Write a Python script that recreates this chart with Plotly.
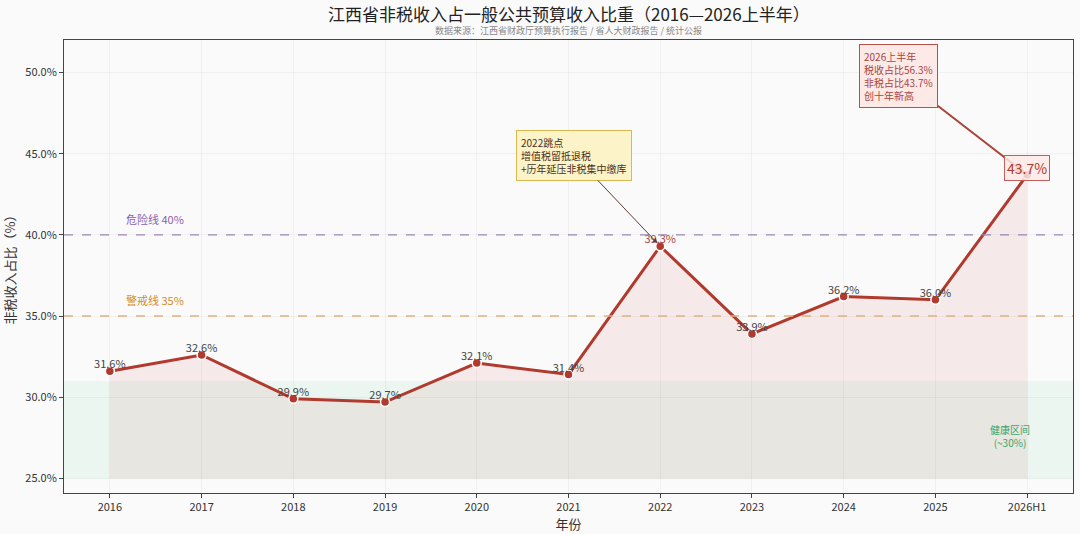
import plotly.graph_objects as go

# data
years = ["2016", "2017", "2018", "2019", "2020", "2021", "2022", "2023", "2024", "2025", "2026H1"]
nontax_share = [31.6, 32.6, 29.9, 29.7, 32.1, 31.4, 39.3, 33.9, 36.2, 36.0, 43.7]
warn_line = 35
danger_line = 40
healthy_band = [25, 31]
y_ticks = [25, 30, 35, 40, 45, 50]

line_red = "#b03a2e"
font_cn = "Noto Sans CJK SC"

fig = go.Figure()

# healthy zone band
fig.add_shape(type="rect", xref="paper", yref="y", x0=0, x1=1,
              y0=healthy_band[0], y1=healthy_band[1],
              fillcolor="rgba(46,204,113,0.07)", line_width=0, layer="below")

# baseline for the area fill
fig.add_trace(go.Scatter(
    x=years, y=[healthy_band[0]] * len(years),
    mode="lines", line=dict(width=0, color="rgba(0,0,0,0)"),
    showlegend=False, hoverinfo="skip"
))

fig.add_trace(go.Scatter(
    x=years, y=nontax_share,
    mode="lines+markers",
    line=dict(color=line_red, width=3),
    marker=dict(size=9, color=line_red, line=dict(color="white", width=1.5)),
    fill="tonexty", fillcolor="rgba(192,57,43,0.08)",
    showlegend=False
))

# value labels
point_text = [f"{v:.1f}%" for v in nontax_share]
point_text[-1] = ""
text_colors = ["#444444"] * len(years)
text_colors[6] = "#a94442"
fig.add_trace(go.Scatter(
    x=years, y=nontax_share, mode="text",
    text=point_text, textposition="top center",
    textfont=dict(size=11, color=text_colors, family=font_cn),
    showlegend=False, hoverinfo="skip"
))

# reference lines
fig.add_hline(y=danger_line, line=dict(color="#9b86b5", width=1.3, dash="dash"))
fig.add_hline(y=warn_line, line=dict(color="#e0b080", width=1.3, dash="dash"))

fig.add_annotation(x=0.15, y=danger_line + 0.35, xref="x", yref="y",
                   text=f"危险线 {danger_line}%", showarrow=False, xanchor="left",
                   yanchor="bottom", font=dict(size=11, color="#8e5fb0", family=font_cn))
fig.add_annotation(x=0.15, y=warn_line + 0.35, xref="x", yref="y",
                   text=f"警戒线 {warn_line}%", showarrow=False, xanchor="left",
                   yanchor="bottom", font=dict(size=11, color="#d58a2e", family=font_cn))

# healthy zone label
fig.add_annotation(x=9.81, y=27.6, xref="x", yref="y",
                   text="健康区间<br>(~30%)", showarrow=False,
                   font=dict(size=10, color="#3aa56a", family=font_cn))

# 2022 jump note
fig.add_annotation(x=6, y=nontax_share[6], xref="x", yref="y",
                   axref="x", ayref="y", ax=5.06, ay=44.9,
                   text="2022跳点<br>增值税留抵退税<br>+历年延压非税集中缴库",
                   align="left", showarrow=True, arrowhead=2, arrowsize=1,
                   arrowwidth=1, arrowcolor="#5a3a3a", standoff=4,
                   bgcolor="#fdf3c8", bordercolor="#d9b84e", borderwidth=1, borderpad=4,
                   font=dict(size=10, color="#4a3020", family=font_cn))

# 2026H1 note
fig.add_annotation(x=10, y=nontax_share[10], xref="x", yref="y",
                   axref="x", ayref="y", ax=8.6, ay=49.8,
                   text="2026上半年<br>税收占比56.3%<br>非税占比43.7%<br>创十年新高",
                   align="left", showarrow=True, arrowhead=2, arrowsize=1,
                   arrowwidth=2, arrowcolor="#a94438", standoff=3,
                   bgcolor="#fde9e5", bordercolor="#b5524a", borderwidth=1, borderpad=4,
                   font=dict(size=10, color="#a94442", family=font_cn))

# 2026H1 value badge
fig.add_annotation(x=10, y=nontax_share[10], xref="x", yref="y",
                   text=f"{nontax_share[10]:.1f}%", showarrow=False, yshift=7,
                   bgcolor="rgba(253,233,229,0.85)", bordercolor="#c0605a", borderwidth=1, borderpad=2,
                   font=dict(size=14, color="#b03a2e", family=font_cn))

# title and source line
fig.add_annotation(x=0.5, y=1.058, xref="paper", yref="paper", showarrow=False,
                   text="江西省非税收入占一般公共预算收入比重（2016—2026上半年）",
                   yanchor="middle", font=dict(size=17, color="#222222", family=font_cn))
fig.add_annotation(x=0.5, y=1.021, xref="paper", yref="paper", showarrow=False,
                   text="数据来源：江西省财政厅预算执行报告 / 省人大财政报告 / 统计公报",
                   yanchor="middle", font=dict(size=9, color="#888888", family=font_cn))

fig.update_layout(
    width=1080, height=534,
    paper_bgcolor="#fafafa", plot_bgcolor="#fafafa",
    margin=dict(l=64, r=7, t=40, b=41, autoexpand=False),
    font=dict(family=font_cn, color="#333333"),
    xaxis=dict(
        type="category", range=[-0.5, 10.5], automargin=False,
        title=dict(text="年份", font=dict(size=13), standoff=2),
        tickfont=dict(size=11), ticks="outside", ticklen=4, tickcolor="#444",
        showline=True, linecolor="#444", linewidth=1, mirror=True,
        showgrid=True, gridcolor="rgba(0,0,0,0.04)", zeroline=False
    ),
    yaxis=dict(
        range=[24.1, 52], tickvals=y_ticks, automargin=False,
        ticktext=[f"{t:.1f}%" for t in y_ticks],
        title=dict(text="非税收入占比（%）", font=dict(size=13), standoff=8),
        tickfont=dict(size=11), ticks="outside", ticklen=4, tickcolor="#444",
        showline=True, linecolor="#444", linewidth=1, mirror=True,
        showgrid=True, gridcolor="rgba(0,0,0,0.04)", zeroline=False
    ),
)

# drop the default page margin so the figure sits at the window's top-left corner
fig.write_html("out.html", config={"displayModeBar": False},
               post_script="document.body.style.margin='0';document.body.style.overflow='hidden';")
